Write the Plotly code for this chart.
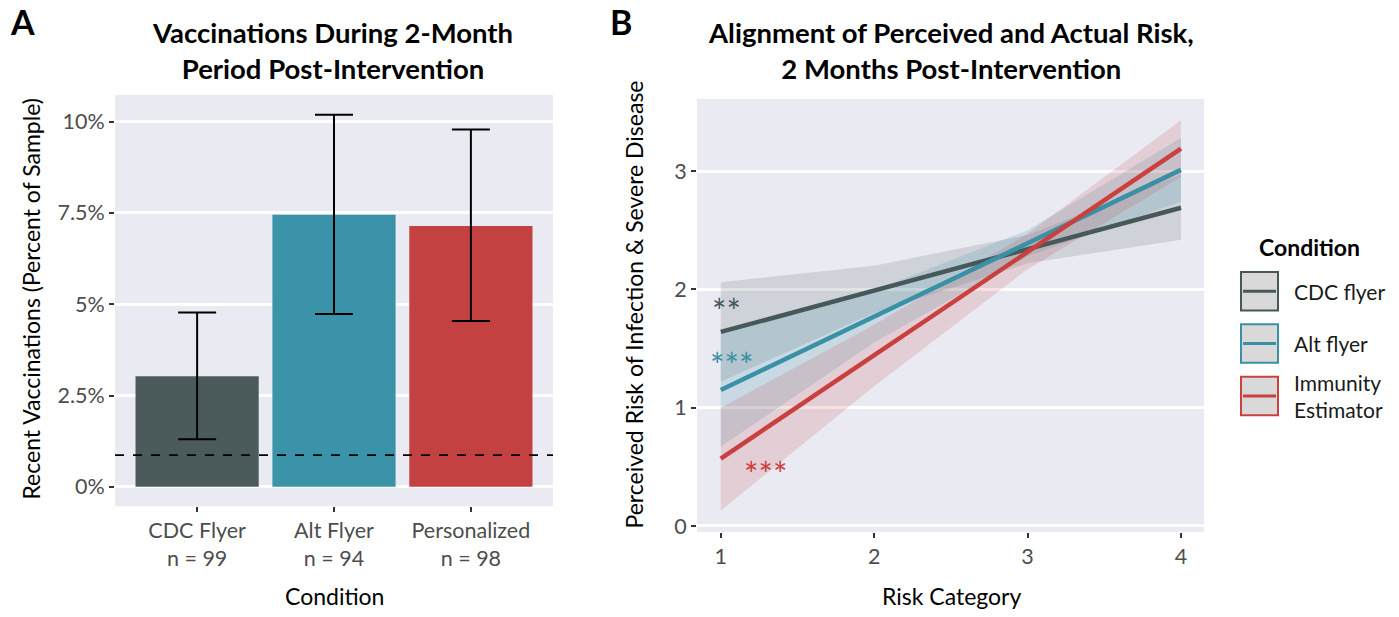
import plotly.graph_objects as go

W, H = 1399, 617
FONT = "Lato"

# ---------------- Panel A data ----------------
bar_labels = ["CDC Flyer<br>n = 99", "Alt Flyer<br>n = 94", "Personalized<br>n = 98"]
bar_pos = [1, 2, 3]
bar_values = [3.03, 7.45, 7.14]        # percent
bar_lo = [1.30, 4.73, 4.54]
bar_hi = [4.77, 10.19, 9.78]
bar_colors = ["#4b5b5c", "#3a93a8", "#c44142"]
baseline = 0.87                          # dashed reference line (percent)
a_ticks = [0, 2.5, 5, 7.5, 10]
a_ticktext = ["0%", "2.5%", "5%", "7.5%", "10%"]

# ---------------- Panel B data ----------------
risk_x = [1, 2, 3, 4]
conditions = ["CDC flyer", "Alt flyer", "Immunity<br>Estimator"]
cdc_fit = [1.64, 1.99, 2.34, 2.69]
cdc_lo = [1.22, 1.80, 2.22, 2.42]
cdc_hi = [2.06, 2.20, 2.46, 2.97]
alt_fit = [1.15, 1.77, 2.39, 3.01]
alt_lo = [0.67, 1.55, 2.28, 2.74]
alt_hi = [1.63, 1.99, 2.50, 3.28]
imm_fit = [0.57, 1.44, 2.32, 3.19]
imm_lo = [0.13, 1.18, 2.17, 2.95]
imm_hi = [1.00, 1.70, 2.47, 3.43]
line_colors = ["#475859", "#3a90a5", "#c9403f"]
fill_colors = ["rgba(71,88,89,0.16)", "rgba(58,144,165,0.18)", "rgba(201,64,63,0.16)"]
stars = ["**", "***", "***"]
star_x = [1.04, 1.07, 1.29]
star_y = [1.90, 1.44, 0.52]
b_ticks = [0, 1, 2, 3]
bx_ticks = [1, 2, 3, 4]

BG = "#eaeaf2"
TICKC = "#4d4d4d"

fig = go.Figure()

# Panel A bars
fig.add_trace(go.Bar(
    x=bar_pos, y=bar_values, width=0.9,
    marker=dict(color=bar_colors, line=dict(width=0)),
    error_y=dict(type="data", symmetric=False,
                 array=[h - v for h, v in zip(bar_hi, bar_values)],
                 arrayminus=[v - l for v, l in zip(bar_values, bar_lo)],
                 color="black", thickness=2, width=19),
    xaxis="x", yaxis="y", showlegend=False, hoverinfo="skip"))

# Panel B ribbons and lines
fits = [cdc_fit, alt_fit, imm_fit]
los = [cdc_lo, alt_lo, imm_lo]
his = [cdc_hi, alt_hi, imm_hi]
for f, lo, hi, fc in zip(fits, los, his, fill_colors):
    fig.add_trace(go.Scatter(
        x=risk_x + risk_x[::-1], y=hi + lo[::-1], fill="toself",
        fillcolor=fc, line=dict(width=0), mode="lines",
        xaxis="x2", yaxis="y2", showlegend=False, hoverinfo="skip"))
for f, lc in zip(fits, line_colors):
    fig.add_trace(go.Scatter(
        x=risk_x, y=f, mode="lines", line=dict(color=lc, width=4.5),
        xaxis="x2", yaxis="y2", showlegend=False, hoverinfo="skip"))

axis_common = dict(showline=False, zeroline=False, ticks="outside", ticklen=5,
                   tickwidth=1.5, tickcolor="#333333",
                   tickfont=dict(family=FONT, size=21.5, color=TICKC))

fig.update_layout(
    width=W, height=H, margin=dict(l=0, r=0, t=0, b=0),
    paper_bgcolor="white", plot_bgcolor=BG,
    font=dict(family=FONT),
    xaxis=dict(domain=[115 / W, 553 / W], range=[0.4, 3.6],
               tickvals=bar_pos, ticktext=bar_labels, showgrid=False,
               anchor="y", **axis_common),
    yaxis=dict(domain=[(H - 512) / H, (H - 96) / H], range=[-0.53, 10.73],
               tickvals=a_ticks, ticktext=a_ticktext, showgrid=True,
               gridcolor="white", gridwidth=2.5, anchor="x", **axis_common),
    xaxis2=dict(domain=[697 / W, 1204 / W], range=[0.845, 4.15],
                tickvals=bx_ticks, showgrid=False, anchor="y2", **axis_common),
    yaxis2=dict(domain=[(H - 538) / H, (H - 100) / H], range=[-0.05, 3.61],
                tickvals=b_ticks, showgrid=True, gridcolor="white",
                gridwidth=2.5, anchor="x2", **axis_common),
)

shapes = []
# dashed baseline in panel A
shapes.append(dict(type="line", xref="x domain", yref="y", x0=0, x1=1,
                   y0=baseline, y1=baseline,
                   line=dict(color="black", width=1.8, dash="dash")))

annotations = []
def ann(text, x, y, size, bold=False, color="black", xanchor="center",
        yanchor="middle", angle=0, align="center", xref="paper", yref="paper"):
    annotations.append(dict(
        text=f"<b>{text}</b>" if bold else text, x=x, y=y, xref=xref, yref=yref,
        showarrow=False, xanchor=xanchor, yanchor=yanchor, textangle=angle,
        align=align, font=dict(family=FONT, size=size, color=color)))

def px(xp):
    return xp / W
def py(yp):
    return (H - yp) / H

# panel letters
ann("A", px(8), py(22), 34, bold=True, xanchor="left")
ann("B", px(608), py(22), 34, bold=True, xanchor="left")
# titles
ann("Vaccinations During 2-Month<br>Period Post-Intervention", px(332), py(51), 27.5, bold=True)
ann("Alignment of Perceived and Actual Risk,<br>2 Months Post-Intervention", px(951), py(51), 27.5, bold=True)
# axis titles
ann("Recent Vaccinations (Percent of Sample)", px(31), py(303), 23, angle=-90)
ann("Condition", px(334), py(603), 23)
ann("Perceived Risk of Infection & Severe Disease", px(634), py(308), 23, angle=-90)
ann("Risk Category", px(951), py(603), 23)

# significance stars
for s, sx, sy, c in zip(stars, star_x, star_y, line_colors):
    annotations.append(dict(text=s, x=sx, y=sy, xref="x2", yref="y2",
                            showarrow=False, xanchor="center", yanchor="middle",
                            yshift=-9, font=dict(family=FONT, size=34, color=c)))

# manual legend
ann("Condition", px(1309), py(250), 23, bold=True)
key_tops = [275, 328, 381]
text_y = [295, 347, 401]
for cond, c, kt, ty in zip(conditions, line_colors, key_tops, text_y):
    shapes.append(dict(type="rect", xref="paper", yref="paper",
                       x0=px(1241), x1=px(1278), y0=py(kt + 39), y1=py(kt),
                       fillcolor="#d9d9d9", line=dict(color=c, width=2)))
    shapes.append(dict(type="line", xref="paper", yref="paper",
                       x0=px(1243), x1=px(1276), y0=py(kt + 19.5), y1=py(kt + 19.5),
                       line=dict(color=c, width=3)))
    ann(cond, px(1292), py(ty), 21, xanchor="left", align="left", color="#1a1a1a")

fig.update_layout(shapes=shapes, annotations=annotations)
fig.write_html("out.html")
